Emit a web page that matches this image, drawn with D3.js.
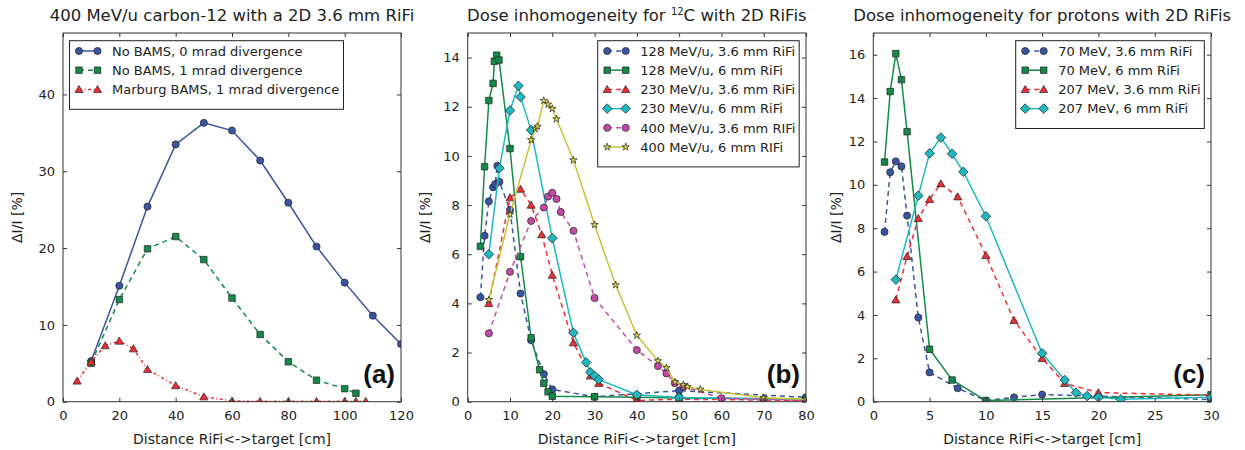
<!DOCTYPE html>
<html>
<head>
<meta charset="utf-8">
<title>Dose inhomogeneity with 2D RiFis</title>
<script src="https://cdnjs.cloudflare.com/ajax/libs/d3/7.8.5/d3.min.js"></script>
<style>
    body { margin: 0; background: #fff; }
    svg { font-family: "DejaVu Sans", sans-serif; }
</style>
</head>
<body>
<svg id="chart" width="1245" height="450"></svg>
<script>
    // panel (a): 400 MeV/u carbon-12, 3.6 mm RiFi
    var aBlueX = [10, 20, 30, 40, 50, 60, 70, 80, 90, 100, 110, 120];
    var aBlueY = [5.3, 15.1, 25.4, 33.5, 36.3, 35.3, 31.4, 25.9, 20.2, 15.5, 11.2, 7.5];
    var aGreenX = [10, 20, 30, 40, 50, 60, 70, 80, 90, 100, 104];
    var aGreenY = [5.0, 13.3, 19.9, 21.5, 18.5, 13.5, 8.75, 5.2, 2.8, 1.7, 1.1];
    var aRedX = [5, 10, 15, 20, 25, 30, 40, 50, 60, 70, 80, 90, 100, 104, 107.5];
    var aRedY = [2.7, 5.2, 7.3, 7.9, 6.9, 4.2, 2.1, 0.65, 0.1, 0.05, 0.05, 0.05, 0.05, 0.05, 0.05];
    var aNames = ['No BAMS, 0 mrad divergence', 'No BAMS, 1 mrad divergence', 'Marburg BAMS, 1 mrad divergence'];
    var aXTicks = [0, 20, 40, 60, 80, 100, 120];
    var aYTicks = [0, 10, 20, 30, 40];

    // panel (b): carbon-12
    var b128aX = [3, 4, 5, 6, 6.5, 7, 7.5, 10, 12.5, 15, 18, 20, 30, 50, 80];
    var b128aY = [4.25, 6.75, 8.15, 8.72, 8.85, 9.6, 8.95, 7.8, 4.4, 2.5, 1.12, 0.5, 0.2, 0.45, 0.18];
    var b128bX = [3, 4, 5, 6, 6.3, 6.85, 7.4, 10, 12.5, 15, 17, 18, 19, 20, 30, 40, 50, 80];
    var b128bY = [6.32, 9.56, 12.25, 12.95, 13.85, 14.1, 13.9, 10.3, 5.9, 2.6, 1.3, 0.75, 0.4, 0.22, 0.2, 0.18, 0.15, 0.1];
    var b230aX = [5, 10, 12.5, 15, 17.5, 20, 25, 29, 31, 40, 50, 80];
    var b230aY = [4.0, 8.3, 8.65, 8.0, 6.8, 5.15, 2.4, 1.05, 0.75, 0.05, 0.1, 0.05];
    var b230bX = [5, 7.5, 10, 12, 12.5, 15, 20, 25, 28, 29, 30, 31, 40, 50, 80];
    var b230bY = [6.0, 9.5, 11.85, 12.85, 12.4, 11.05, 6.65, 2.8, 1.6, 1.2, 1.05, 0.9, 0.28, 0.17, 0.1];
    var b400aX = [5, 10, 15, 18, 19, 20, 21, 22, 25, 30, 40, 45, 47, 49, 51, 60, 70, 80];
    var b400aY = [2.78, 5.28, 7.35, 7.9, 8.35, 8.5, 8.25, 7.72, 6.95, 4.22, 2.1, 1.45, 1.15, 0.75, 0.62, 0.14, 0.1, 0.05];
    var b400bX = [5, 10, 15, 16, 16.5, 18, 19, 20, 21, 25, 30, 35, 40, 45, 47, 49, 51, 52, 55, 70, 80];
    var b400bY = [4.15, 7.62, 10.65, 11.1, 11.2, 12.25, 12.1, 11.92, 11.5, 9.83, 7.2, 4.75, 2.7, 1.66, 1.38, 0.8, 0.68, 0.61, 0.5, 0.16, 0.1];
    var bNames = ['128 MeV/u, 3.6 mm RiFi', '128 MeV/u, 6 mm RiFi', '230 MeV/u, 3.6 mm RiFi',
                  '230 MeV/u, 6 mm RiFi', '400 MeV/u, 3.6 mm RIFi', '400 MeV/u, 6 mm RIFi'];
    var bXTicks = [0, 10, 20, 30, 40, 50, 60, 70, 80];
    var bYTicks = [0, 2, 4, 6, 8, 10, 12, 14];

    // panel (c): protons
    var c70aX = [1, 1.5, 2, 2.5, 3, 4, 5, 7.5, 10, 12.5, 15, 30];
    var c70aY = [7.83, 10.58, 11.08, 10.85, 8.58, 3.88, 1.35, 0.62, 0.05, 0.2, 0.33, 0.1];
    var c70bX = [1, 1.5, 2, 2.5, 3, 5, 7, 10, 30];
    var c70bY = [11.05, 14.3, 16.05, 14.85, 12.45, 2.42, 1.0, 0.05, 0.32];
    var c207aX = [2, 3, 4, 5, 6, 7.5, 10, 12.5, 15, 17, 20, 30];
    var c207aY = [4.7, 6.7, 8.45, 9.33, 10.05, 9.45, 6.75, 3.75, 2.0, 0.85, 0.42, 0.3];
    var c207bX = [2, 4, 5, 6, 7, 8, 10, 15, 17, 18, 19, 20, 22, 30];
    var c207bY = [5.63, 9.5, 11.45, 12.18, 11.43, 10.6, 8.55, 2.23, 1.0, 0.42, 0.26, 0.2, 0.11, 0.2];
    var cNames = ['70 MeV, 3.6 mm RiFi', '70 MeV, 6 mm RiFi', '207 MeV, 3.6 mm RiFi', '207 MeV, 6 mm RiFi'];
    var cXTicks = [0, 5, 10, 15, 20, 25, 30];
    var cYTicks = [0, 2, 4, 6, 8, 10, 12, 14, 16];

    var blue = '#3a54a4', green = '#138a48', red = '#ee2e36',
        cyan = '#1eb8c1', magenta = '#c24ba8', olive = '#c7c23a';
    var dashed = '5,4', dashdot = '3,2.5,1,2.5';

    var svg = d3.select('#chart');

    function marker(type) {
        if (type == 'circle') return d3.symbol(d3.symbolCircle, 40)();
        if (type == 'square') return d3.symbol(d3.symbolSquare, 42)();
        if (type == 'triangle') return d3.symbol(d3.symbolTriangle, 29)();
        if (type == 'diamond') return d3.symbol(d3.symbolSquare, 46)();
        return d3.symbol(d3.symbolStar, 17)();
    }

    function drawMarker(sel, s) {
        sel.append('path')
            .attr('d', marker(s.marker))
            .attr('transform', function() { return s.marker == 'diamond' ? 'rotate(45)' : (s.marker == 'triangle' ? 'translate(0,0.8)' : null); })
            .attr('fill', s.fill || s.color)
            .attr('stroke', '#222')
            .attr('stroke-width', 0.7);
    }

    function drawPanel(p) {
        var x = d3.scaleLinear().domain(p.xDomain).range([p.left, p.right]);
        var y = d3.scaleLinear().domain(p.yDomain).range([p.bottom, p.top]);
        var g = svg.append('g');

        svg.append('clipPath').attr('id', 'clip' + p.id)
            .append('rect')
            .attr('x', p.left).attr('y', p.top)
            .attr('width', p.right - p.left).attr('height', p.bottom - p.top);

        var plot = g.append('g').attr('clip-path', 'url(#clip' + p.id + ')');
        var line = d3.line().x(function(d) { return x(d[0]); }).y(function(d) { return y(d[1]); });

        p.series.forEach(function(s) {
            var pts = d3.zip(s.x, s.y);
            plot.append('path').datum(pts)
                .attr('d', line)
                .attr('fill', 'none')
                .attr('stroke', s.color)
                .attr('stroke-width', 1.5)
                .attr('stroke-dasharray', s.dash || null);
            plot.selectAll(null).data(pts).join('g')
                .attr('transform', function(d) { return 'translate(' + x(d[0]) + ',' + y(d[1]) + ')'; })
                .each(function() { drawMarker(d3.select(this), s); });
        });

        // axes with inward ticks on all four sides
        var bottom = g.append('g').attr('transform', 'translate(0,' + p.bottom + ')')
            .call(d3.axisBottom(x).tickValues(p.xTicks).tickSizeInner(-4).tickSizeOuter(0).tickPadding(9.5));
        var top = g.append('g').attr('transform', 'translate(0,' + p.top + ')')
            .call(d3.axisTop(x).tickValues(p.xTicks).tickSizeInner(-4).tickSizeOuter(0).tickFormat(''));
        var left = g.append('g').attr('transform', 'translate(' + p.left + ',0)')
            .call(d3.axisLeft(y).tickValues(p.yTicks).tickSizeInner(-4).tickSizeOuter(0).tickPadding(8));
        var right = g.append('g').attr('transform', 'translate(' + p.right + ',0)')
            .call(d3.axisRight(y).tickValues(p.yTicks).tickSizeInner(-4).tickSizeOuter(0).tickFormat(''));
        [bottom, top, left, right].forEach(function(a) {
            a.select('.domain').remove();
            a.selectAll('line').attr('stroke', '#333');
            a.selectAll('text').attr('font-family', 'DejaVu Sans').attr('font-size', 13).attr('fill', '#222');
        });

        g.append('rect')
            .attr('x', p.left).attr('y', p.top)
            .attr('width', p.right - p.left).attr('height', p.bottom - p.top)
            .attr('fill', 'none').attr('stroke', '#333').attr('stroke-width', 1);

        // title
        var t = g.append('text')
            .attr('x', (p.left + p.right) / 2).attr('y', 21)
            .attr('text-anchor', 'middle')
            .attr('font-size', 16.5).attr('fill', '#222');
        p.title.forEach(function(part) {
            var ts = t.append('tspan').text(part.text);
            if (part.sup) ts.attr('font-size', 10).attr('dy', -6);
            else if (part.after) ts.attr('dy', 6);
        });

        g.append('text')
            .attr('x', (p.left + p.right) / 2).attr('y', 444)
            .attr('text-anchor', 'middle')
            .attr('font-size', 14).attr('fill', '#222')
            .text('Distance RiFi<->target [cm]');

        g.append('text')
            .attr('transform', 'translate(' + p.ylabelX + ',' + ((p.top + p.bottom) / 2) + ') rotate(-90)')
            .attr('text-anchor', 'middle')
            .attr('font-size', 14).attr('fill', '#222')
            .text('\u0394I/I [%]');

        g.append('text')
            .attr('x', p.right - 6).attr('y', p.bottom - 19)
            .attr('text-anchor', 'end')
            .attr('font-family', '"Liberation Sans", Arial, sans-serif')
            .attr('font-weight', 'bold')
            .attr('font-size', 26).attr('fill', '#111')
            .text(p.tag);

        // legend
        var L = p.legend;
        var rowH = 19.2;
        g.append('rect')
            .attr('x', L.x).attr('y', L.y)
            .attr('width', L.w).attr('height', 10 + rowH * p.series.length + 1)
            .attr('fill', '#fff').attr('stroke', '#222').attr('stroke-width', 1);
        p.series.forEach(function(s, i) {
            var ry = L.y + 10.3 + rowH * i;
            var x0 = L.x + 9.5, x1 = L.x + 28;
            g.append('line')
                .attr('x1', x0).attr('x2', x1).attr('y1', ry).attr('y2', ry)
                .attr('stroke', s.color).attr('stroke-width', 1.5)
                .attr('stroke-dasharray', s.dash || null);
            [x0, x1].forEach(function(mx) {
                drawMarker(g.append('g').attr('transform', 'translate(' + mx + ',' + ry + ')'), s);
            });
            g.append('text')
                .attr('x', L.x + 42.5).attr('y', ry + 4.7)
                .attr('font-size', 13).attr('fill', '#222')
                .text(s.name);
        });
    }

    drawPanel({
        id: 'a', left: 63, right: 401, top: 33, bottom: 401.7,
        xDomain: [0, 120], yDomain: [0, 48], xTicks: aXTicks, yTicks: aYTicks,
        title: [{ text: '400 MeV/u carbon-12 with a 2D 3.6 mm RiFi' }],
        ylabelX: 22, tag: '(a)',
        legend: { x: 69.5, y: 40.7, w: 274 },
        series: [
            { name: aNames[0], x: aBlueX, y: aBlueY, color: blue, marker: 'circle' },
            { name: aNames[1], x: aGreenX, y: aGreenY, color: green, marker: 'square', dash: dashed },
            { name: aNames[2], x: aRedX, y: aRedY, color: red, marker: 'triangle', dash: dashdot }
        ]
    });

    drawPanel({
        id: 'b', left: 467.7, right: 806, top: 33, bottom: 401.7,
        xDomain: [0, 80], yDomain: [0, 15], xTicks: bXTicks, yTicks: bYTicks,
        title: [{ text: 'Dose inhomogeneity for ' }, { text: '12', sup: true }, { text: 'C with 2D RiFis', after: true }],
        ylabelX: 430, tag: '(b)',
        legend: { x: 597.7, y: 40.7, w: 201.5 },
        series: [
            { name: bNames[0], x: b128aX, y: b128aY, color: blue, marker: 'circle', dash: dashed },
            { name: bNames[1], x: b128bX, y: b128bY, color: green, marker: 'square' },
            { name: bNames[2], x: b230aX, y: b230aY, color: red, marker: 'triangle', dash: dashed },
            { name: bNames[3], x: b230bX, y: b230bY, color: cyan, marker: 'diamond' },
            { name: bNames[4], x: b400aX, y: b400aY, color: magenta, marker: 'circle', dash: dashed },
            { name: bNames[5], x: b400bX, y: b400bY, color: olive, marker: 'star', fill: '#dcd646' }
        ]
    });

    drawPanel({
        id: 'c', left: 873.3, right: 1211, top: 33, bottom: 401.7,
        xDomain: [0, 30], yDomain: [0, 17], xTicks: cXTicks, yTicks: cYTicks,
        title: [{ text: 'Dose inhomogeneity for protons with 2D RiFis' }],
        ylabelX: 841, tag: '(c)',
        legend: { x: 1015.7, y: 40.7, w: 188.6 },
        series: [
            { name: cNames[0], x: c70aX, y: c70aY, color: blue, marker: 'circle', dash: dashed },
            { name: cNames[1], x: c70bX, y: c70bY, color: green, marker: 'square' },
            { name: cNames[2], x: c207aX, y: c207aY, color: red, marker: 'triangle', dash: dashed },
            { name: cNames[3], x: c207bX, y: c207bY, color: cyan, marker: 'diamond' }
        ]
    });
</script>
</body>
</html>
